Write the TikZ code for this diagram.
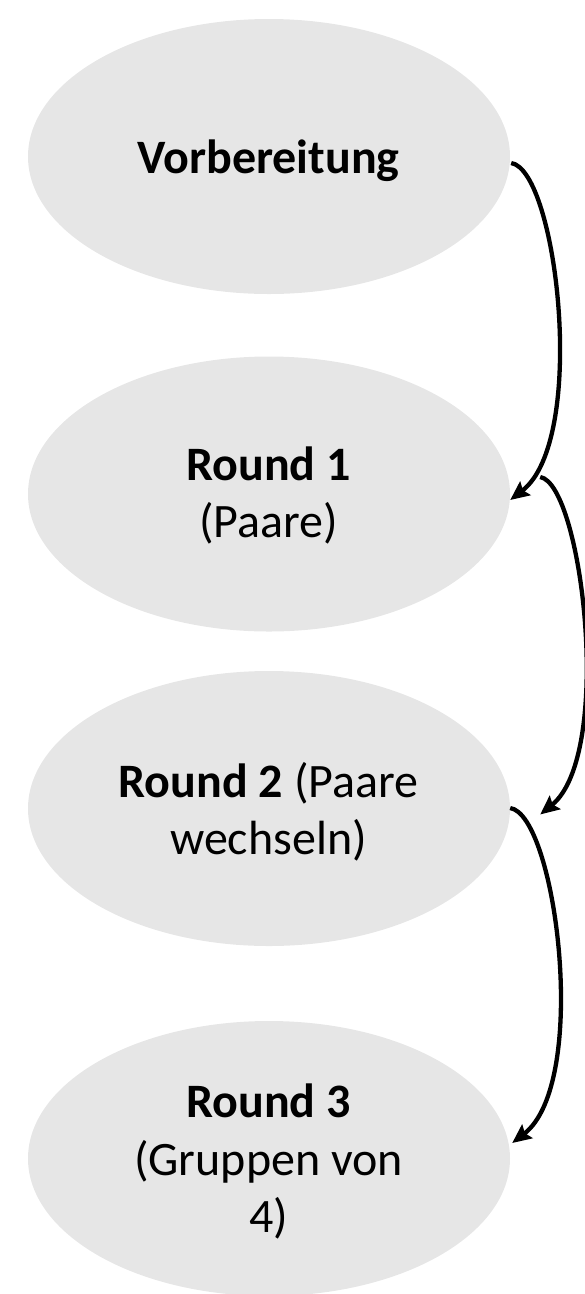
\documentclass[tikz,border=0pt]{standalone}
\usepackage{fontspec}
\setmainfont{Carlito}
\usetikzlibrary{shapes.geometric,arrows.meta,calc}
\definecolor{ellfill}{RGB}{230,230,230}
\tikzset{
  stage/.style={ellipse, fill=ellfill, draw=none, minimum width=482pt, minimum height=275pt, inner sep=0pt},
  label/.style={anchor=base, inner sep=0pt, font=\fontsize{48}{58}\selectfont},
  flow/.style={line width=4.3pt, -{Stealth[length=19pt,width=17pt,inset=3pt]}}
}
\begin{document}
\begin{tikzpicture}[x=1pt,y=-1pt]
\useasboundingbox (0,0) rectangle (585,1294);
\node[stage] (e1) at (269,156.5) {};
\node[stage] (e2) at (269,494) {};
\node[stage] (e3) at (269,808.5) {};
\node[stage] (e4) at (269,1158.5) {};

\node[label] (t1) at (268.5,173) {\textbf{Vorbereitung}};
\node[label] (t2a) at (268.5,480.5) {\textbf{Round 1}};
\node[label] (t2b) at (268.5,537) {(Paare)};
\node[label] (t3a) at (268.5,797) {\textbf{Round 2} (Paare};
\node[label] (t3b) at (268.5,854) {wechseln)};
\node[label] (t4a) at (268.5,1117) {\textbf{Round 3}};
\node[label] (t4b) at (268.5,1175) {(Gruppen von};
\node[label] (t4c) at (268.5,1232) {4)};

\draw[flow] ($(e1.east)+(1,6.5)$) .. controls +(46,7) and +(78,-60) .. ($(e2.east)+(0,6)$);
\draw[flow] ($(e2.east)+(30,-17)$) .. controls +(42,7) and +(74,-60) .. ($(e3.east)+(30,6)$);
\draw[flow] ($(e3.east)+(0,-0.5)$) .. controls +(46,7) and +(78,-60) .. ($(e4.east)+(2,-15.5)$);
\end{tikzpicture}
\end{document}
